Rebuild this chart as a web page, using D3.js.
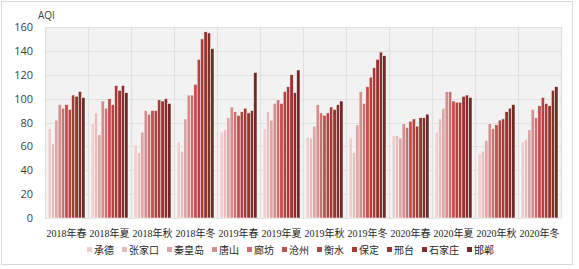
<!DOCTYPE html>
<html>
<head>
<meta charset="utf-8">
<script src="https://cdn.jsdelivr.net/npm/d3@7"></script>
<style>
  body { margin: 0; background: #fff; }
  svg { display: block; }
</style>
</head>
<body>
<div id="chart"></div>
<script>
var seasons = ["2018年春", "2018年夏", "2018年秋", "2018年冬", "2019年春", "2019年夏",
               "2019年秋", "2019年冬", "2020年春", "2020年夏", "2020年秋", "2020年冬"];
var cities = ["承德", "张家口", "秦皇岛", "唐山", "廊坊", "沧州", "衡水", "保定", "邢台", "石家庄", "邯郸"];
var cityColors = ["#edcfd0", "#e6bdbd", "#dca6a6", "#d38e8e", "#c97171", "#c0504d",
                  "#b3433f", "#a63b38", "#963532", "#852f2c", "#722826"];

// one array per season, cities in order above
var s2018spring = [75, 62, 82, 95, 92, 95, 91, 103, 102, 106, 101];
var s2018summer = [79, 88, 70, 98, 92, 100, 95, 111, 107, 111, 105];
var s2018autumn = [61, 55, 72, 90, 87, 90, 90, 99, 98, 100, 96];
var s2018winter = [64, 56, 83, 103, 103, 112, 133, 150, 156, 155, 142];
var s2019spring = [72, 74, 84, 93, 89, 86, 89, 92, 88, 90, 122];
var s2019summer = [75, 89, 82, 96, 99, 96, 106, 110, 120, 105, 124];
var s2019autumn = [68, 67, 77, 95, 88, 86, 88, 93, 91, 95, 98];
var s2019winter = [67, 55, 78, 106, 96, 110, 118, 126, 133, 139, 136];
var s2020spring = [69, 69, 67, 79, 76, 81, 83, 77, 84, 84, 87];
var s2020summer = [72, 83, 92, 106, 106, 98, 97, 97, 102, 103, 101];
var s2020autumn = [54, 56, 65, 79, 75, 78, 82, 83, 89, 92, 95];
var s2020winter = [64, 66, 74, 91, 84, 94, 101, 96, 94, 107, 110];
var seasonValues = [s2018spring, s2018summer, s2018autumn, s2018winter, s2019spring, s2019summer,
                    s2019autumn, s2019winter, s2020spring, s2020summer, s2020autumn, s2020winter];
var yTicks = [0, 20, 40, 60, 80, 100, 120, 140, 160];

var W = 579, H = 269;
var margin = {top: 27, right: 18, bottom: 51, left: 45};
var width = W - margin.left - margin.right,
    height = H - margin.top - margin.bottom;

var labelFont = "'Liberation Serif', 'Noto Sans CJK SC', serif";

var svg = d3.select("#chart").append("svg")
    .attr("width", W)
    .attr("height", H);

// outer frame
svg.append("rect")
    .attr("x", 1.5).attr("y", 1.5)
    .attr("width", 571).attr("height", 263)
    .attr("fill", "#fff")
    .attr("stroke", "#d9d9d9")
    .attr("stroke-width", 1);

var g = svg.append("g")
    .attr("transform", "translate(" + margin.left + "," + margin.top + ")");

var x0 = d3.scaleBand().domain(seasons).range([0, width]);
var x1 = d3.scaleBand().domain(cities).range([3, x0.bandwidth() - 3]);
var y = d3.scaleLinear().domain([0, 160]).range([height, 0]);
var color = d3.scaleOrdinal().domain(cities).range(cityColors);

// plot background
g.append("rect")
    .attr("width", width).attr("height", height)
    .attr("fill", "#f2f2f2");

// horizontal grid
g.selectAll(".hgrid").data(yTicks).enter().append("line")
    .attr("x1", 0).attr("x2", width)
    .attr("y1", d => Math.round(y(d)) + 0.5).attr("y2", d => Math.round(y(d)) + 0.5)
    .attr("stroke", "#e0e0e0").attr("stroke-width", 1.2);

// vertical grid at band edges
var edges = seasons.map(s => x0(s)).concat([width]);
g.selectAll(".vgrid").data(edges).enter().append("line")
    .attr("x1", d => Math.round(d) + 0.5).attr("x2", d => Math.round(d) + 0.5)
    .attr("y1", 0).attr("y2", height)
    .attr("stroke", "#e0e0e0").attr("stroke-width", 1.2);

// bars
var groups = g.selectAll(".season").data(seasons).enter().append("g")
    .attr("transform", d => "translate(" + x0(d) + ",0)");

groups.selectAll("rect")
    .data((s, i) => cities.map((c, j) => ({city: c, value: seasonValues[i][j]})))
    .enter().append("rect")
    .attr("x", d => x1(d.city))
    .attr("y", d => y(d.value))
    .attr("width", x1.bandwidth())
    .attr("height", d => height - y(d.value))
    .attr("fill", d => color(d.city))
    .attr("stroke", "#fff")
    .attr("stroke-width", 0.5);

// y axis labels
var yAxis = g.append("g")
    .call(d3.axisLeft(y).tickValues(yTicks).tickSize(0).tickPadding(12));
yAxis.select(".domain").remove();
yAxis.selectAll("text")
    .attr("fill", "#404040")
    .style("font-family", "'Open Sans', 'DejaVu Sans', sans-serif")
    .style("font-size", "11px");

svg.append("text")
    .attr("x", 38).attr("y", 19)
    .attr("fill", "#404040")
    .style("font-family", "'Open Sans', 'DejaVu Sans', sans-serif")
    .style("font-size", "10px")
    .text("AQI");

// x axis labels
var xAxis = g.append("g")
    .attr("transform", "translate(0," + height + ")")
    .call(d3.axisBottom(x0).tickSize(0).tickPadding(12));
xAxis.select(".domain").remove();
xAxis.selectAll("text")
    .attr("fill", "#262626")
    .style("font-family", labelFont)
    .style("font-size", "10px");

// legend
var legend = svg.append("g").attr("transform", "translate(0,254)");
var lx = 87;
cities.forEach(function(c) {
  var item = legend.append("g").attr("transform", "translate(" + lx + ",0)");
  item.append("rect")
      .attr("x", 0).attr("y", -7)
      .attr("width", 5).attr("height", 5)
      .attr("fill", color(c));
  var t = item.append("text")
      .attr("x", 7).attr("y", 0)
      .attr("fill", "#262626")
      .style("font-family", labelFont)
      .style("font-size", "10px")
      .text(c);
  lx += 7 + t.node().getComputedTextLength() + 8;
});
</script>
</body>
</html>
